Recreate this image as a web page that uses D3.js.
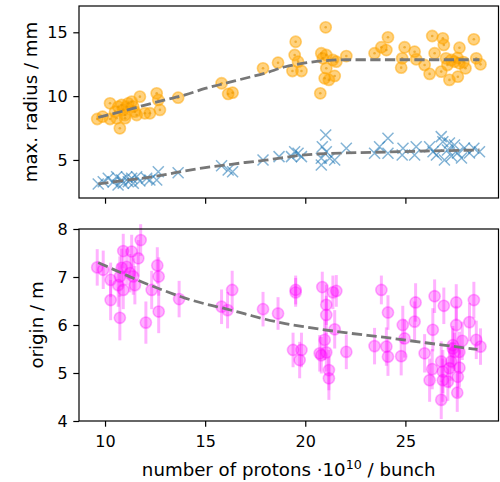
<!DOCTYPE html>
<html>
<head>
<meta charset="utf-8">
<script src="https://cdn.jsdelivr.net/npm/d3@7"></script>
<style>
  body { margin: 0; background: #fff; }
  svg { display: block; font-family: "DejaVu Sans", sans-serif; }
</style>
</head>
<body>
<svg id="chart" width="500" height="482"></svg>
<script>
// max. radius, orange circles [protons, radius]
const radiusPoints = [
  [9.61, 8.21], [9.88, 8.39], [10.25, 9.44], [10.25, 8.21], [10.74, 7.48], [10.50, 8.78],
  [10.66, 9.17], [10.83, 9.31], [10.91, 8.92], [11.0, 8.52], [11.08, 9.17], [11.16, 9.44],
  [11.33, 9.57], [11.41, 9.17], [11.49, 8.78], [11.74, 9.96], [11.58, 8.52], [10.58, 8.27],
  [11.0, 8.27], [12.58, 10.22], [12.66, 9.70], [12.74, 8.92], [12.24, 8.66], [11.99, 8.66],
  [13.65, 9.88], [15.82, 11.01], [16.15, 10.17], [16.37, 10.27], [17.89, 12.18], [18.64, 12.62],
  [19.52, 14.26], [19.47, 13.22], [19.36, 11.97], [19.81, 11.97], [19.64, 12.70], [21.02, 15.39],
  [20.80, 13.36], [21.05, 13.22], [20.88, 12.96], [21.38, 12.83], [21.05, 12.18], [20.97, 11.40],
  [21.18, 11.27], [21.47, 11.58], [20.75, 10.22], [21.55, 12.70], [22.05, 13.14], [23.46, 13.36],
  [23.80, 13.83], [24.13, 14.61], [24.05, 13.61], [24.96, 13.83], [24.84, 12.96], [24.79, 12.23],
  [25.46, 13.48], [25.54, 12.89], [25.96, 12.44], [26.21, 11.74], [26.34, 14.71], [26.46, 13.36],
  [26.87, 14.53], [26.92, 14.01], [26.79, 11.92], [27.20, 11.27], [27.62, 11.52], [27.70, 13.79],
  [28.0, 12.18], [28.42, 14.45], [28.54, 12.96], [28.75, 12.49], [27.03, 12.96], [27.45, 12.70],
  [27.70, 12.57], [27.10, 12.44], [27.30, 12.83], [27.60, 12.99], [27.90, 12.67]
];

// second radius, blue crosses
const crossPoints = [
  [9.66, 3.12], [9.91, 3.30], [10.16, 3.57], [10.40, 3.28], [10.58, 3.69], [10.65, 3.04],
  [10.83, 3.43], [10.91, 3.17], [11.08, 3.67], [11.16, 3.30], [11.33, 3.57], [11.41, 3.17],
  [11.58, 3.69], [11.74, 3.35], [12.08, 3.57], [12.24, 3.43], [12.66, 4.08], [12.58, 3.43],
  [13.65, 4.0], [15.82, 4.55], [16.15, 4.22], [16.37, 4.08], [17.89, 5.0], [18.69, 5.26],
  [19.47, 5.65], [19.64, 5.53], [19.31, 5.26], [19.81, 5.26], [21.02, 6.96], [20.85, 6.04],
  [21.05, 5.65], [20.80, 5.13], [21.22, 5.13], [20.80, 4.61], [21.47, 5.0], [22.05, 5.92],
  [23.46, 5.53], [23.71, 6.04], [24.13, 6.70], [24.13, 5.53], [24.88, 5.92], [24.84, 5.39],
  [25.46, 5.39], [25.54, 6.04], [26.21, 6.04], [26.38, 5.65], [26.79, 6.83], [26.87, 6.43],
  [28.42, 5.92], [28.70, 5.65], [27.10, 5.78], [27.30, 5.31], [27.45, 6.17], [27.60, 5.55],
  [27.80, 5.16], [27.95, 5.94], [27.20, 6.33], [26.95, 5.0], [26.55, 5.39], [28.20, 5.55]
];

// origin [protons, origin, error]
const originPoints = [
  [9.61, 7.20, 0.38], [9.91, 7.15, 0.40], [10.28, 6.94, 0.36], [10.28, 6.52, 0.42], [10.74, 6.15, 0.47],
  [10.91, 7.54, 0.36], [10.83, 7.19, 0.40], [11.08, 7.21, 0.38], [10.74, 7.01, 0.42], [10.66, 6.83, 0.45],
  [10.91, 6.73, 0.40], [11.33, 7.53, 0.35], [11.66, 7.39, 0.38], [11.78, 7.77, 0.33], [11.24, 7.08, 0.40],
  [11.41, 7.01, 0.38], [11.49, 6.83, 0.40], [12.04, 6.05, 0.44], [12.33, 6.73, 0.40], [12.61, 7.24, 0.38],
  [12.68, 7.01, 0.40], [12.68, 6.28, 0.45], [13.70, 6.54, 0.38], [15.82, 6.38, 0.36], [16.12, 6.31, 0.38],
  [16.35, 6.73, 0.40], [17.89, 6.33, 0.36], [18.64, 6.24, 0.34], [19.52, 6.73, 0.30], [19.52, 6.68, 0.30],
  [19.39, 5.48, 0.36], [19.81, 5.48, 0.36], [19.72, 5.27, 0.38], [20.85, 6.79, 0.32], [21.05, 6.42, 0.42],
  [21.05, 6.21, 0.40], [21.38, 6.68, 0.35], [21.55, 6.71, 0.33], [21.47, 5.91, 0.40], [20.97, 5.69, 0.42],
  [20.72, 5.41, 0.38], [20.80, 5.37, 0.38], [21.05, 5.43, 0.40], [21.18, 5.06, 0.42], [21.18, 4.89, 0.45],
  [22.05, 5.44, 0.36], [23.80, 6.73, 0.30], [24.13, 6.26, 0.36], [23.46, 5.56, 0.38], [24.05, 5.55, 0.40],
  [24.13, 5.34, 0.40], [24.79, 5.35, 0.40], [24.87, 6.00, 0.40], [24.96, 5.72, 0.40], [25.46, 6.07, 0.42],
  [25.51, 6.47, 0.40], [25.96, 5.41, 0.40], [26.37, 5.90, 0.45], [26.46, 6.60, 0.35], [26.34, 5.08, 0.42],
  [26.21, 4.85, 0.45], [26.79, 4.44, 0.40], [26.92, 6.40, 0.38], [26.79, 5.24, 0.42], [26.87, 5.03, 0.45],
  [26.87, 4.85, 0.45], [27.12, 4.82, 0.40], [27.20, 5.10, 0.42], [27.29, 5.24, 0.40], [27.37, 5.51, 0.42],
  [27.45, 5.44, 0.40], [27.54, 6.47, 0.38], [27.54, 6.00, 0.40], [27.62, 4.92, 0.42], [27.59, 4.59, 0.40],
  [27.70, 5.11, 0.40], [27.70, 5.44, 0.42], [27.84, 5.67, 0.40], [28.20, 6.06, 0.40], [28.42, 6.52, 0.38],
  [28.54, 5.69, 0.40], [28.75, 5.55, 0.38], [27.37, 5.58, 0.40]
];

// fit curves
const radiusFit = [
  [9.66, 8.34], [11, 8.87], [12, 9.3], [13, 9.7], [14, 10.1], [15, 10.6], [16, 11.0], [17, 11.4],
  [18, 11.8], [19, 12.3], [20, 12.6], [21, 12.78], [22, 12.85], [24, 12.85], [26, 12.85], [28.7, 12.85]
];
const crossFit = [
  [9.66, 3.12], [11, 3.4], [12, 3.6], [13, 3.85], [14, 4.15], [15, 4.4], [16, 4.6], [17, 4.8],
  [18, 4.98], [19, 5.2], [20, 5.4], [21, 5.5], [22, 5.55], [24, 5.62], [26, 5.7], [28.7, 5.78]
];
const originFit = [
  [9.66, 7.30], [11, 7.05], [12, 6.87], [13, 6.71], [14, 6.56], [15, 6.44], [16, 6.34], [17, 6.23],
  [18, 6.12], [19, 6.03], [20, 5.96], [22, 5.84], [24, 5.74], [26, 5.63], [28.6, 5.49]
];

const xTicks = [10, 15, 20, 25];
const radiusTicks = [5, 10, 15];
const originTicks = [4, 5, 6, 7, 8];

const svg = d3.select('#chart');
const left = 79, right = 498.5;
const top1 = 6, bottom1 = 198;
const top2 = 229, bottom2 = 421;
const tickFont = 16, labelFont = 18.2;
const tickLen = 5.7, tickPad = 5.7;

const x = d3.scaleLinear().domain([8.70, 29.65]).range([left, right]);
const yTop = d3.scaleLinear().domain([2.02, 17.06]).range([bottom1, top1]);
const yBot = d3.scaleLinear().domain([4, 8]).range([bottom2, top2]);

function frame(t, b) {
  svg.append('rect')
    .attr('x', left).attr('y', t)
    .attr('width', right - left).attr('height', b - t)
    .attr('fill', 'none').attr('stroke', '#000').attr('stroke-width', 1.2);
}

function styleAxis(g) {
  g.select('.domain').remove();
  g.selectAll('.tick line').attr('stroke', '#000').attr('stroke-width', 1.2);
  g.selectAll('.tick text').attr('font-size', tickFont).attr('fill', '#000')
    .attr('font-family', '"DejaVu Sans", sans-serif');
}

function fitLine(data, yScale) {
  svg.append('path')
    .datum(data)
    .attr('fill', 'none')
    .attr('stroke', '#777')
    .attr('stroke-width', 2.8)
    .attr('stroke-dasharray', '10.3,4.4')
    .attr('d', d3.line().curve(d3.curveMonotoneX).x(d => x(d[0])).y(d => yScale(d[1])));
}

// ---- top panel
const gTop = svg.append('g');
gTop.selectAll('circle.o')
  .data(radiusPoints).enter().append('circle')
  .attr('cx', d => x(d[0])).attr('cy', d => yTop(d[1])).attr('r', 5.6)
  .attr('fill', 'orange').attr('fill-opacity', 0.5)
  .attr('stroke', 'orange').attr('stroke-opacity', 0.5).attr('stroke-width', 1.6);
gTop.selectAll('circle.c')
  .data(radiusPoints).enter().append('circle')
  .attr('cx', d => x(d[0])).attr('cy', d => yTop(d[1])).attr('r', 1.3)
  .attr('fill', '#e69500').attr('fill-opacity', 0.6);

const s = 5.5;
gTop.selectAll('path.x')
  .data(crossPoints).enter().append('path')
  .attr('transform', d => `translate(${x(d[0])},${yTop(d[1])})`)
  .attr('d', `M${-s},${-s}L${s},${s}M${-s},${s}L${s},${-s}`)
  .attr('stroke', '#1f77b4').attr('stroke-opacity', 0.55).attr('stroke-width', 1.5)
  .attr('fill', 'none');

fitLine(radiusFit, yTop);
fitLine(crossFit, yTop);
frame(top1, bottom1);

svg.append('g')
  .attr('transform', `translate(${left},0)`)
  .call(d3.axisLeft(yTop).tickValues(radiusTicks).tickFormat(d3.format('d'))
    .tickSize(tickLen).tickPadding(tickPad).tickSizeOuter(0))
  .call(styleAxis);
svg.append('g')
  .attr('transform', `translate(0,${bottom1})`)
  .call(d3.axisBottom(x).tickValues(xTicks).tickSize(tickLen).tickFormat('').tickSizeOuter(0))
  .call(styleAxis);

// ---- bottom panel
const gBot = svg.append('g');
gBot.selectAll('line.err')
  .data(originPoints).enter().append('line')
  .attr('x1', d => x(d[0])).attr('x2', d => x(d[0]))
  .attr('y1', d => yBot(d[1] - d[2])).attr('y2', d => yBot(d[1] + d[2]))
  .attr('stroke', 'magenta').attr('stroke-opacity', 0.3).attr('stroke-width', 3);
gBot.selectAll('circle.m')
  .data(originPoints).enter().append('circle')
  .attr('cx', d => x(d[0])).attr('cy', d => yBot(d[1])).attr('r', 5.6)
  .attr('fill', 'magenta').attr('fill-opacity', 0.3)
  .attr('stroke', 'magenta').attr('stroke-opacity', 0.3).attr('stroke-width', 1.6);

fitLine(originFit, yBot);
frame(top2, bottom2);

svg.append('g')
  .attr('transform', `translate(${left},0)`)
  .call(d3.axisLeft(yBot).tickValues(originTicks).tickFormat(d3.format('d'))
    .tickSize(tickLen).tickPadding(tickPad).tickSizeOuter(0))
  .call(styleAxis);
svg.append('g')
  .attr('transform', `translate(0,${bottom2})`)
  .call(d3.axisBottom(x).tickValues(xTicks).tickSize(tickLen).tickPadding(9).tickSizeOuter(0))
  .call(styleAxis);

// ---- labels
svg.append('text')
  .attr('transform', `translate(37,${(top1 + bottom1) / 2}) rotate(-90)`)
  .attr('text-anchor', 'middle').attr('font-size', labelFont)
  .text('max. radius / mm');
svg.append('text')
  .attr('transform', `translate(43,${(top2 + bottom2) / 2}) rotate(-90)`)
  .attr('text-anchor', 'middle').attr('font-size', labelFont)
  .text('origin / m');

const xl = svg.append('text')
  .attr('x', (left + right) / 2).attr('y', 476)
  .attr('text-anchor', 'middle').attr('font-size', labelFont);
xl.append('tspan').text('number of protons \u00b710');
xl.append('tspan').attr('dy', -7).attr('font-size', 12.7).text('10');
xl.append('tspan').attr('dy', 7).text(' / bunch');
</script>
</body>
</html>
